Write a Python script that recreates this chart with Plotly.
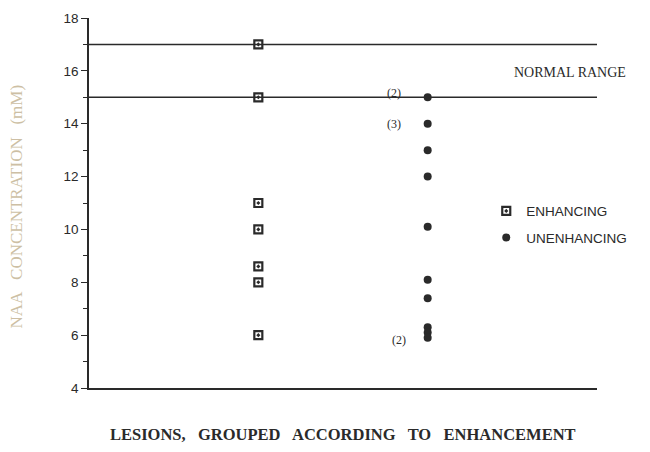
import plotly.graph_objects as go

# data
enh_y = [17, 15, 11, 10, 8.6, 8, 6]
unenh_y = [15, 14, 13, 12, 10.1, 8.1, 7.4, 6.3, 6.1, 5.9]
enh_x = [1] * len(enh_y)
unenh_x = [2] * len(unenh_y)
normal_range = [15, 17]
y_ticks = [4, 6, 8, 10, 12, 14, 16, 18]
count_labels = ["(2)", "(3)", "(2)"]
count_x = [1.8, 1.8, 1.83]
count_y = [15.15, 13.98, 5.8]

ink = "#2a2a2a"
fig = go.Figure()

fig.add_trace(go.Scatter(
    x=enh_x, y=enh_y, mode="markers", name="ENHANCING",
    legendgroup="a",
    marker=dict(symbol="square-open-dot", size=8, color=ink,
                line=dict(width=2.2, color=ink)),
))
fig.add_trace(go.Scatter(
    x=unenh_x, y=unenh_y, mode="markers", name="UNENHANCING",
    legendgroup="b",
    marker=dict(symbol="circle", size=8, color=ink),
))

for v in normal_range:
    fig.add_hline(y=v, line=dict(color=ink, width=1.6), layer="below")

annos = []
for t, xx, yy in zip(count_labels, count_x, count_y):
    annos.append(dict(x=xx, y=yy, text=t, showarrow=False,
                      font=dict(family="Liberation Serif", size=12, color=ink)))
annos.append(dict(x=0.947, xref="paper", y=15.92, text="NORMAL RANGE",
                  xanchor="center", showarrow=False,
                  font=dict(family="Liberation Serif", size=14, color=ink)))
annos.append(dict(x=-0.142, xref="paper", y=0.49, yref="paper",
                  text="NAA   CONCENTRATION   (mM)", textangle=-90,
                  xanchor="center", yanchor="middle",
                  showarrow=False,
                  font=dict(family="Liberation Serif", size=17, color="#cdbfa4")))
annos.append(dict(x=0.5, xref="paper", y=-0.125, yref="paper",
                  xanchor="center", yanchor="middle",
                  text="<b>LESIONS,   GROUPED   ACCORDING   TO   ENHANCEMENT</b>",
                  showarrow=False,
                  font=dict(family="Liberation Serif", size=16.5, color=ink)))

fig.update_layout(
    width=650, height=452,
    margin=dict(l=81, r=61, t=10, b=72, autoexpand=False),
    paper_bgcolor="white", plot_bgcolor="white",
    showlegend=True,
    legend=dict(x=0.782, y=0.52, xanchor="left", yanchor="top",
                font=dict(family="Liberation Sans", size=13.5, color=ink),
                bgcolor="rgba(0,0,0,0)", tracegroupgap=6,
                traceorder="grouped"),
    annotations=annos,
    xaxis=dict(range=[0, 3], showgrid=False, zeroline=False,
               showticklabels=False, ticks="", showline=True,
               linecolor=ink, linewidth=1.6, automargin=False),
    yaxis=dict(range=[4, 18], tickvals=y_ticks, showgrid=False,
               zeroline=False, showline=True, linecolor=ink, linewidth=1.6,
               ticks="outside", ticklen=6, tickwidth=1.3, tickcolor=ink,
               automargin=False,
               minor=dict(dtick=1, ticks="outside", ticklen=4,
                          tickwidth=1.3, tickcolor=ink),
               tickfont=dict(family="Liberation Sans", size=13.5, color=ink)),
)

fig.write_html("out.html")
